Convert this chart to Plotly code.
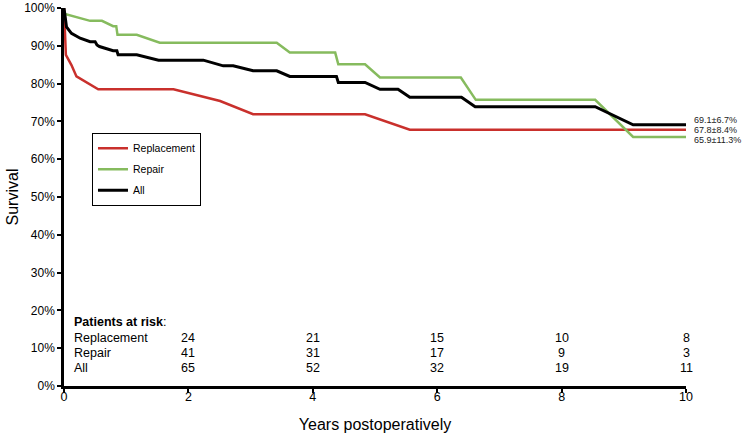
import plotly.graph_objects as go

# ---- data ----
years_replacement = [0, 0.03, 0.12, 0.2, 0.55, 1.76, 2.51, 3.04, 4.84, 5.56, 10]
surv_replacement = [1.0, 0.876, 0.849, 0.819, 0.785, 0.785, 0.754, 0.719, 0.719, 0.678, 0.678]

years_repair = [0, 0.42, 0.61, 0.79, 0.84, 0.86, 1.17, 1.54, 3.42, 3.63, 4.36, 4.41,
                4.84, 5.08, 6.38, 6.62, 8.54, 9.15, 10]
surv_repair = [0.985, 0.966, 0.966, 0.952, 0.952, 0.929, 0.929, 0.908, 0.908, 0.882, 0.882,
               0.851, 0.851, 0.816, 0.816, 0.757, 0.757, 0.659, 0.659]

years_all = [0, 0.04, 0.12, 0.26, 0.42, 0.5, 0.53, 0.57, 0.79, 0.85, 0.87, 1.17, 1.52, 2.24,
             2.56, 2.72, 3.04, 3.42, 3.63, 4.38, 4.41, 4.84, 5.08, 5.37, 5.56, 6.39, 6.61,
             8.54, 9.15, 10]
surv_all = [1.0, 0.95, 0.933, 0.92, 0.911, 0.911, 0.902, 0.898, 0.887, 0.887, 0.876, 0.876,
            0.862, 0.862, 0.847, 0.847, 0.834, 0.834, 0.819, 0.819, 0.803, 0.803, 0.785,
            0.785, 0.764, 0.764, 0.739, 0.739, 0.691, 0.691]

series_names = ["Replacement", "Repair", "All"]
final_labels = ["69.1±6.7%", "67.8±8.4%", "65.9±11.3%"]
final_values = [0.691, 0.678, 0.659]

risk_years = [2, 4, 6, 8, 10]
risk_replacement = [24, 21, 15, 10, 8]
risk_repair = [41, 31, 17, 9, 3]
risk_all = [65, 52, 32, 19, 11]

x_ticks = [0, 2, 4, 6, 8, 10]
y_ticks = [0, 0.1, 0.2, 0.3, 0.4, 0.5, 0.6, 0.7, 0.8, 0.9, 1.0]
y_ticktext = ["0%", "10%", "20%", "30%", "40%", "50%", "60%", "70%", "80%", "90%", "100%"]

# ---- styles ----
RED = "#c9302c"
GREEN = "#86bb5e"
BLACK = "#000000"
FONT = "Liberation Sans, Arial, sans-serif"

fig = go.Figure()
fig.add_trace(go.Scatter(x=years_replacement, y=surv_replacement, mode="lines",
                         name=series_names[0], legendgroup="a",
                         line=dict(color=RED, width=2.5)))
fig.add_trace(go.Scatter(x=years_repair, y=surv_repair, mode="lines",
                         name=series_names[1], legendgroup="b",
                         line=dict(color=GREEN, width=2.5)))
fig.add_trace(go.Scatter(x=years_all, y=surv_all, mode="lines",
                         name=series_names[2], legendgroup="c",
                         line=dict(color=BLACK, width=3)))

annotations = []
# final survival labels at right
label_shifts = [5, 0, -3]
for lab, val, ys in zip(final_labels, final_values, label_shifts):
    annotations.append(dict(x=10, y=val, text=lab, showarrow=False, xanchor="left",
                            yanchor="middle", xshift=6, yshift=ys,
                            font=dict(size=9, color="#222")))

# patients at risk table
row_y = [0.128, 0.088, 0.048]
annotations.append(dict(x=0.13, y=0.169, text="<b>Patients at risk</b>:", showarrow=False,
                        xanchor="left", yanchor="middle", font=dict(size=12.5, color="black")))
for name, yy, vals in zip(series_names, row_y, [risk_replacement, risk_repair, risk_all]):
    annotations.append(dict(x=0.13, y=yy, text=name, showarrow=False, xanchor="left",
                            yanchor="middle", font=dict(size=12.5, color="black")))
    for xv, v in zip(risk_years, vals):
        annotations.append(dict(x=xv, y=yy, text=str(v), showarrow=False, xanchor="center",
                                yanchor="middle", font=dict(size=12.5, color="black")))

fig.update_layout(
    width=750, height=437,
    margin=dict(l=64, r=64, t=8, b=51),
    paper_bgcolor="white", plot_bgcolor="white",
    font=dict(family=FONT, color="black", size=12),
    showlegend=True,
    legend=dict(x=0.045, y=0.67, xanchor="left", yanchor="top",
                bordercolor="black", borderwidth=1, bgcolor="white",
                font=dict(size=10.5), tracegroupgap=2, itemwidth=30),
    annotations=annotations,
)
fig.update_xaxes(range=[0, 10], tickvals=x_ticks, ticks="outside", ticklen=4, tickwidth=2,
                 tickcolor="black", showline=True, linecolor="black", linewidth=2.5,
                 showgrid=False, zeroline=False, tickfont=dict(size=12.5),
                 ticklabelstandoff=-7,
                 title=dict(text="Years postoperatively", font=dict(size=16), standoff=17),
                 automargin=False)
fig.update_yaxes(range=[0, 1], tickvals=y_ticks, ticktext=y_ticktext, ticks="outside",
                 ticklen=4, tickwidth=2, tickcolor="black", showline=True, linecolor="black",
                 linewidth=2.5, showgrid=False, zeroline=False, tickfont=dict(size=12),
                 title=dict(text="Survival", font=dict(size=16), standoff=2),
                 automargin=False)

fig.write_html("out.html", config={"displayModeBar": False},
               post_script="document.body.style.margin='0';")
